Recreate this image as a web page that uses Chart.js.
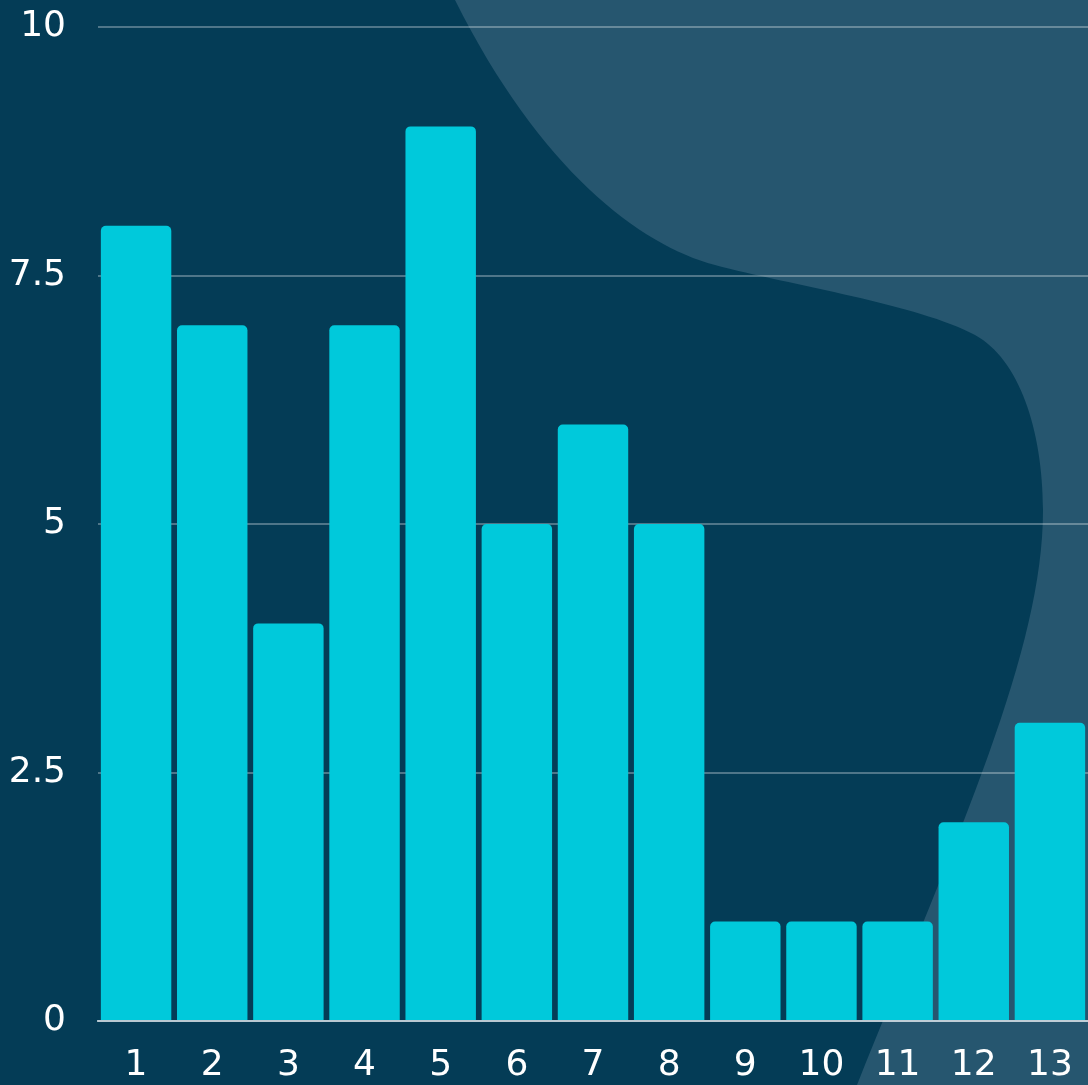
<!DOCTYPE html>
<html>
<head>
<meta charset="utf-8">
<script src="https://cdn.jsdelivr.net/npm/chart.js@4/dist/chart.umd.min.js"></script>
<style>
  html, body { margin: 0; padding: 0; background: #043c56; }
  #chart { display: block; }
</style>
</head>
<body>
<canvas id="chart" width="1088" height="1085"></canvas>
<script>
const categories = ['1', '2', '3', '4', '5', '6', '7', '8', '9', '10', '11', '12', '13'];
const values = [8, 7, 4, 7, 9, 5, 6, 5, 1, 1, 1, 2, 3];
const yTicks = [0, 2.5, 5, 7.5, 10];
const yTickLabels = ['0', '2.5', '5', '7.5', '10'];

const ctx = document.getElementById('chart').getContext('2d');

// dark page with a lighter wave shape on the right
const backdrop = {
  id: 'backdrop',
  beforeDraw(chart) {
    const { ctx: c, width, height } = chart;
    const sx = width / 1088, sy = height / 1085;
    const P = (x, y) => [x * sx, y * sy];
    c.save();
    c.fillStyle = '#043c56';
    c.fillRect(0, 0, width, height);
    c.fillStyle = '#26566f';
    c.beginPath();
    c.moveTo(...P(455, 0));
    c.bezierCurveTo(...P(540, 170), ...P(640, 245), ...P(715, 265));
    c.bezierCurveTo(...P(790, 285), ...P(920, 305), ...P(975, 335));
    c.bezierCurveTo(...P(1019, 359), ...P(1043, 430), ...P(1043, 510));
    c.bezierCurveTo(...P(1043, 650), ...P(960, 830), ...P(857, 1085));
    c.lineTo(width, height);
    c.lineTo(width, 0);
    c.closePath();
    c.fill();
    c.restore();
  }
};

const tickFont = { family: 'DejaVu Sans', size: 36 };

new Chart(ctx, {
  type: 'bar',
  data: {
    labels: categories,
    datasets: [{
      data: values,
      backgroundColor: '#00c9db',
      borderRadius: 5,
      borderSkipped: 'start',
      barPercentage: 0.925,
      categoryPercentage: 1
    }]
  },
  options: {
    responsive: false,
    animation: false,
    // plot runs a little past the right edge, so the last bar is cut off
    layout: { autoPadding: false, padding: { top: 27, right: -8, bottom: 0, left: 0 } },
    plugins: {
      legend: { display: false },
      tooltip: { enabled: false }
    },
    scales: {
      x: {
        afterFit(scale) {
          scale.height = 64;
          scale.paddingLeft = 0;
          scale.paddingRight = -8;
        },
        grid: { display: false, drawTicks: false },
        border: { display: true, color: 'rgba(220,230,235,0.75)', width: 2 },
        ticks: { color: '#ffffff', font: tickFont, padding: 23, maxRotation: 0, autoSkip: false }
      },
      y: {
        min: 0,
        max: 10,
        afterFit(scale) {
          scale.width = 98;
          scale.paddingTop = 0;
          scale.paddingBottom = 0;
        },
        afterBuildTicks(axis) {
          axis.ticks = yTicks.map(v => ({ value: v }));
        },
        grid: { color: 'rgba(255,255,255,0.3)', lineWidth: 2, drawTicks: false },
        border: { display: false },
        ticks: {
          color: '#ffffff',
          font: tickFont,
          padding: 32,
          callback: (v) => yTickLabels[yTicks.indexOf(v)]
        }
      }
    }
  },
  plugins: [backdrop]
});
</script>
</body>
</html>
